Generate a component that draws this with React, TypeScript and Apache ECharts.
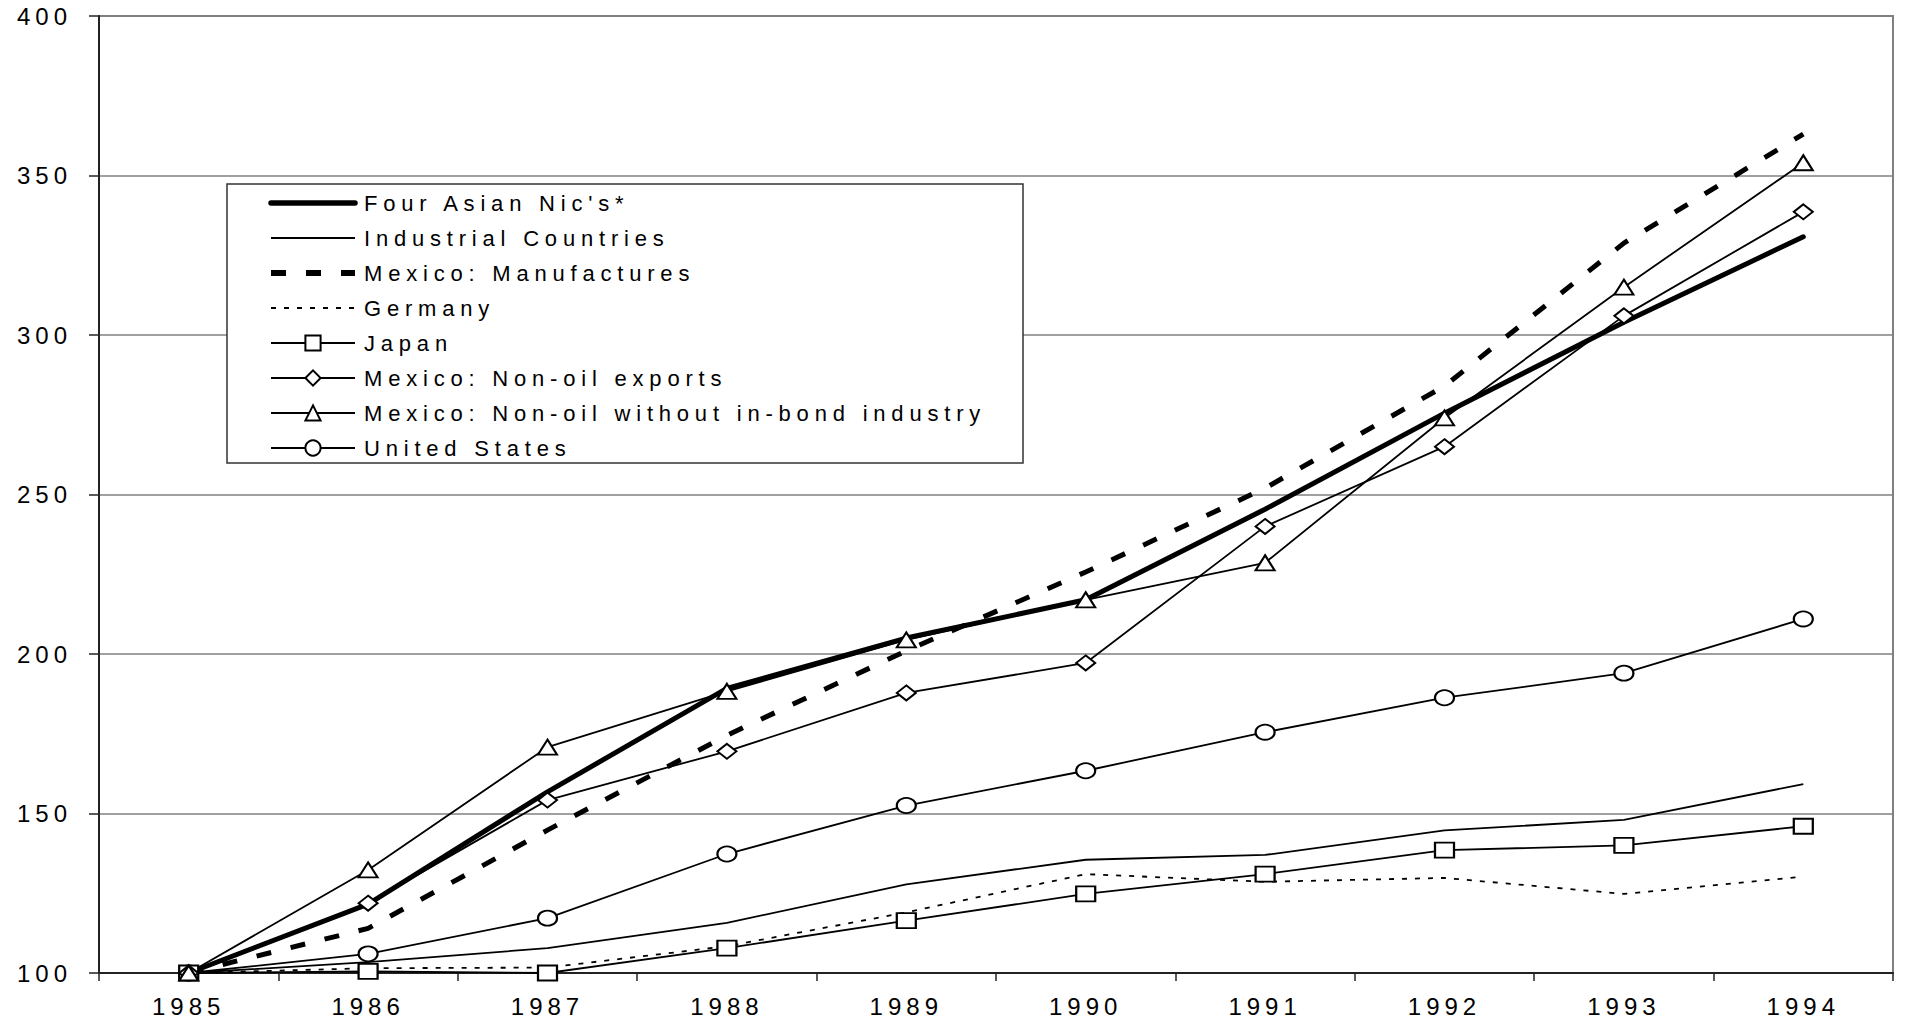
import React, { useEffect, useRef } from "react";
import * as echarts from "echarts";

const years = ["1985", "1986", "1987", "1988", "1989", "1990", "1991", "1992", "1993", "1994"];

const seriesNames = [
  "Four Asian Nic's*",
  "Industrial Countries",
  "Mexico: Manufactures",
  "Germany",
  "Japan",
  "Mexico: Non-oil exports",
  "Mexico: Non-oil without in-bond industry",
  "United States",
];

const asianNics = [100, 121.6, 156.8, 189.2, 205, 217, 245.4, 275.5, 304, 330.8];
const industrialCountries = [100, 103.4, 107.8, 115.7, 127.8, 135.5, 137, 144.7, 148, 159.2];
const mexicoManufactures = [100, 114, 144.8, 174.5, 201, 225.7, 252, 284, 328.8, 363];
const germany = [100, 101.5, 101.7, 108.4, 119, 131, 128.6, 129.8, 124.8, 130.2];
const japan = [100, 100.5, 100, 107.8, 116.4, 124.8, 131, 138.5, 140, 146];
const mexicoNonOil = [100, 121.9, 154.2, 169.5, 187.8, 197.2, 240, 265, 306, 338.6];
const mexicoNonOilNoBond = [100, 132.3, 170.8, 188.3, 204.4, 217, 228.6, 274, 315, 354];
const unitedStates = [100, 106, 117.2, 137.3, 152.5, 163.4, 175.5, 186.3, 194, 211];

const yMin = 100;
const yMax = 400;
const yInterval = 50;

const FONT = "'Liberation Sans', Arial, sans-serif";
const AXIS_FS = 24;
const LEGEND_FS = 22;

export default function App() {
  const ref = useRef<HTMLDivElement>(null);

  useEffect(() => {
    if (!ref.current) return;
    const el = ref.current;
    const chart = echarts.init(el, undefined, { renderer: "svg" });

    const markerItem = { color: "#000", borderColor: "#000", borderWidth: 2 };
    const symSize = [19, 15];
    const thin = 1.8;

    const mk = (name: string, data: number[], extra: any) => ({
      name,
      type: "line",
      data,
      color: "#000",
      symbol: "none",
      symbolSize: symSize,
      itemStyle: markerItem,
      lineStyle: { color: "#000", width: thin },
      z: 2,
      ...extra,
    });

    const hidden = { opacity: 0 };

    const option: any = {
      animation: false,
      backgroundColor: "#fff",
      grid: {
        left: 99,
        right: 12,
        top: 16,
        bottom: 54,
        show: true,
        borderColor: "#808080",
        borderWidth: 2,
        backgroundColor: "transparent",
      },
      xAxis: {
        type: "category",
        data: years,
        boundaryGap: true,
        axisLine: { show: true, lineStyle: { color: "#222", width: 2 } },
        axisTick: { show: true, interval: 0, length: 8, inside: false, lineStyle: { color: "#222", width: 1.5 } },
        axisLabel: { fontSize: AXIS_FS, color: "#000", fontFamily: FONT, margin: 21, interval: 0 },
        splitLine: { show: false },
      },
      yAxis: {
        type: "value",
        min: yMin,
        max: yMax,
        interval: yInterval,
        axisLine: { show: true, lineStyle: { color: "#222", width: 2 } },
        axisTick: { show: true, length: 10, inside: false, lineStyle: { color: "#222", width: 1.5 } },
        axisLabel: { fontSize: AXIS_FS, color: "#000", fontFamily: FONT, margin: 27 },
        splitLine: { show: true, lineStyle: { color: "#808080", width: 1.6 } },
      },
      graphic: [
        {
          type: "rect",
          z: 3,
          shape: { x: 227, y: 184, width: 796, height: 279 },
          style: { fill: "#fff", stroke: "#333", lineWidth: 1.5 },
        },
      ],
      legend: {
        show: true,
        orient: "vertical",
        left: 268,
        top: 191,
        padding: 0,
        z: 10,
        itemWidth: 84,
        itemHeight: 19,
        itemGap: 11,
        selectedMode: false,
        textStyle: { fontSize: LEGEND_FS, color: "#000", fontFamily: FONT, lineHeight: 24, padding: [0, 0, 0, 4] },
        data: [
          { name: seriesNames[0], lineStyle: { width: 5.5, cap: "round" }, itemStyle: hidden },
          { name: seriesNames[1], lineStyle: { width: thin }, itemStyle: hidden },
          { name: seriesNames[2], lineStyle: { width: 6 }, itemStyle: hidden },
          { name: seriesNames[3], lineStyle: { width: 1.8 }, itemStyle: hidden },
          { name: seriesNames[4], lineStyle: { width: thin } },
          { name: seriesNames[5], lineStyle: { width: thin } },
          { name: seriesNames[6], lineStyle: { width: thin } },
          { name: seriesNames[7], lineStyle: { width: thin } },
        ],
      },
      series: [
        mk(seriesNames[1], industrialCountries, {}),
        mk(seriesNames[3], germany, { lineStyle: { color: "#000", width: 1.8, type: [5, 8] } }),
        mk(seriesNames[7], unitedStates, { symbol: "emptyCircle" }),
        mk(seriesNames[4], japan, { symbol: "emptyRect" }),
        mk(seriesNames[5], mexicoNonOil, { symbol: "emptyDiamond" }),
        mk(seriesNames[6], mexicoNonOilNoBond, { symbol: "emptyTriangle" }),
        mk(seriesNames[2], mexicoManufactures, { lineStyle: { color: "#000", width: 5, type: [15, 20] } }),
        mk(seriesNames[0], asianNics, { lineStyle: { color: "#000", width: 5, cap: "round" } }),
      ],
    };

    const spaceTexts = () => {
      el.querySelectorAll("text").forEach((t) => {
        const fs = parseFloat(getComputedStyle(t).fontSize || "0");
        const ls = fs >= AXIS_FS - 0.5 ? "5px" : "5.8px";
        (t as SVGTextElement).style.letterSpacing = ls;
      });
    };

    chart.on("finished", spaceTexts);
    chart.setOption(option);
    spaceTexts();
    return () => chart.dispose();
  }, []);

  return (
    <div
      ref={ref}
      style={{ position: "absolute", left: 0, top: 0, width: "1905px", height: "1027px", background: "#fff" }}
    />
  );
}
